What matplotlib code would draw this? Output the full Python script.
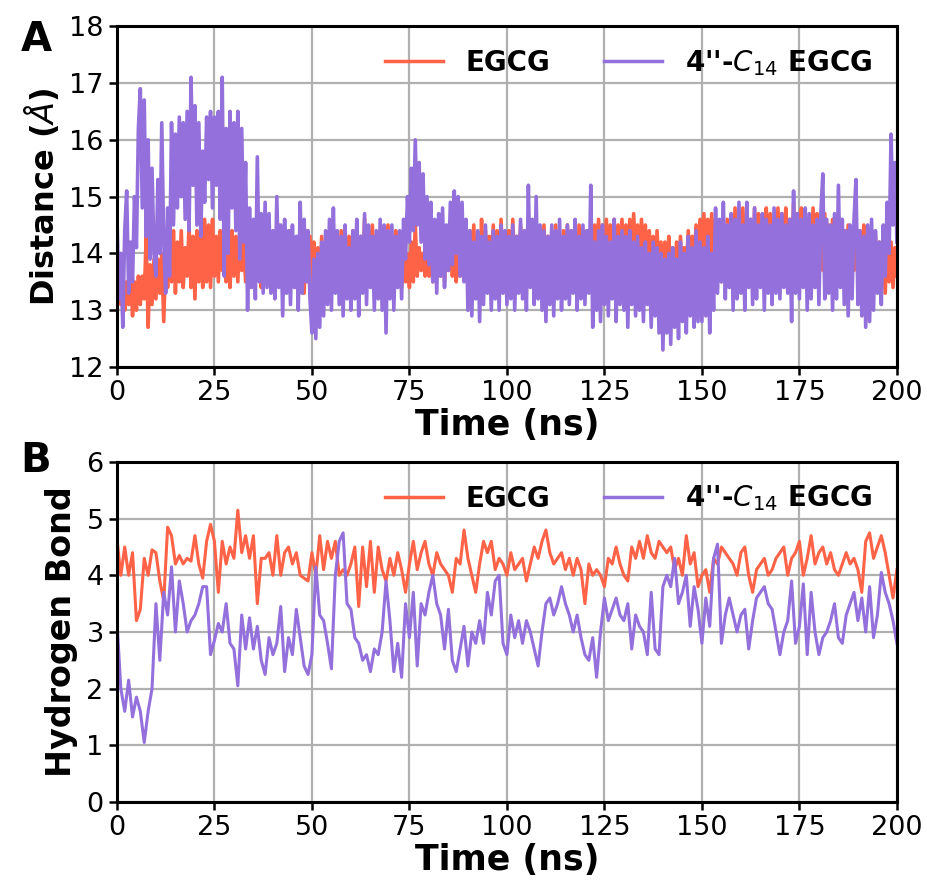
import numpy as np
import matplotlib
matplotlib.use("Agg")
import matplotlib.pyplot as plt

# ---------------- data ----------------
# Panel A: distance (Å), sampled every 0.5 ns from 0 to 200 ns
dist_step = 0.5
egcg_dist = [
    13.3, 13.9, 13.1, 13.6, 13.0, 13.5, 13.1, 13.7, 12.9, 13.5, 13.0, 13.6, 13.1, 13.6, 13.2, 14.3, 12.7, 13.8, 13.1, 13.9,
    13.2, 13.9, 13.3, 14.0, 12.8, 13.9, 13.4, 14.3, 13.5, 14.4, 13.3, 14.2, 13.5, 14.4, 13.4, 14.1, 13.6, 14.5, 13.4, 14.3,
    13.2, 14.4, 13.5, 14.3, 13.4, 14.6, 13.5, 14.5, 13.4, 14.6, 13.6, 14.3, 13.5, 14.4, 13.7, 14.5, 13.5, 14.2, 13.4, 14.4,
    13.6, 14.3, 13.5, 14.4, 13.7, 14.2, 13.5, 14.3, 13.4, 14.1, 13.5, 14.3, 13.6, 14.2, 13.4, 14.4, 13.5, 14.1, 13.6, 14.3,
    13.4, 14.2, 13.6, 14.5, 13.5, 14.3, 13.4, 14.2, 13.6, 14.4, 13.5, 14.1, 13.4, 14.3, 13.6, 14.2, 13.3, 14.4, 13.5, 14.3,
    13.5, 14.2, 13.3, 14.1, 13.4, 14.3, 13.5, 14.2, 13.4, 14.4, 13.6, 14.3, 13.4, 14.2, 13.5, 14.4, 13.6, 14.2, 13.5, 14.3,
    13.6, 14.4, 13.5, 14.5, 13.7, 14.3, 13.6, 14.6, 13.5, 14.4, 13.7, 14.5, 13.6, 14.3, 13.5, 14.4, 13.6, 14.2, 13.7, 14.5,
    13.6, 14.3, 13.5, 14.4, 13.7, 14.2, 13.4, 14.1, 13.5, 14.0, 13.4, 14.2, 13.5, 14.5, 13.6, 14.1, 13.7, 14.0, 13.6, 14.2,
    13.6, 14.1, 13.5, 14.2, 13.7, 14.3, 13.6, 14.1, 13.5, 14.2, 13.7, 14.3, 13.6, 14.0, 13.5, 14.2, 13.6, 14.3, 13.7, 14.2,
    13.5, 14.4, 13.6, 14.5, 13.5, 14.3, 13.6, 14.6, 13.4, 14.4, 13.5, 14.3, 13.7, 14.5, 13.6, 14.4, 13.5, 14.6, 13.6, 14.3,
    13.5, 14.4, 13.6, 14.6, 13.7, 14.3, 13.5, 14.5, 13.6, 14.2, 13.5, 14.4, 13.7, 14.5, 13.6, 14.3, 13.5, 14.4, 13.7, 14.5,
    13.6, 14.3, 13.5, 14.4, 13.7, 14.5, 13.6, 14.3, 13.5, 14.4, 13.6, 14.5, 13.7, 14.4, 13.6, 14.3, 13.5, 14.5, 13.6, 14.4,
    13.6, 14.4, 13.5, 14.3, 13.6, 14.5, 13.8, 14.6, 13.7, 14.5, 13.8, 14.6, 13.7, 14.5, 13.9, 14.6, 13.8, 14.5, 13.7, 14.6,
    13.8, 14.5, 13.7, 14.6, 13.8, 14.7, 13.9, 14.5, 13.7, 14.6, 13.8, 14.5, 13.6, 14.4, 13.7, 14.3, 13.5, 14.4, 13.6, 14.2,
    13.5, 14.2, 13.4, 14.3, 13.6, 14.1, 13.5, 14.2, 13.6, 14.3, 13.5, 14.1, 13.7, 14.4, 13.6, 14.3, 13.8, 14.5, 13.7, 14.6,
    13.8, 14.7, 13.9, 14.6, 13.8, 14.7, 13.9, 14.6, 13.6, 14.4, 13.5, 14.5, 13.7, 14.6, 13.6, 14.5, 13.7, 14.8, 13.6, 14.7,
    13.7, 14.8, 13.6, 14.7, 13.8, 14.6, 13.7, 14.8, 13.6, 14.7, 13.8, 14.6, 13.9, 14.8, 13.7, 14.7, 13.6, 14.6, 13.8, 14.8,
    13.7, 14.7, 13.8, 14.8, 13.6, 14.6, 13.7, 14.9, 13.8, 14.7, 13.7, 14.8, 13.9, 14.7, 13.8, 14.6, 13.7, 14.8, 13.6, 14.7,
    13.8, 14.6, 13.7, 14.7, 13.6, 14.5, 13.8, 14.6, 13.7, 14.5, 13.6, 14.6, 13.8, 14.4, 13.7, 14.5, 13.6, 14.4, 13.7, 14.5,
    13.6, 14.4, 13.5, 14.5, 13.7, 14.3, 13.3, 14.4, 13.6, 14.3, 13.5, 14.2, 13.4, 14.4, 13.3, 14.3, 13.5, 14.2, 13.4, 14.1,
    13.6,
]
c14_dist = [
    14.7, 13.2, 14.0, 12.7, 14.4, 15.1, 13.3, 14.2, 13.5, 15.0, 14.1, 16.2, 16.9, 14.8, 16.7, 14.3, 16.0, 13.9, 15.5, 14.0,
    13.6, 15.3, 14.0, 16.3, 14.2, 13.3, 14.8, 13.6, 16.3, 14.5, 16.1, 14.8, 16.4, 15.0, 16.3, 14.6, 16.5, 14.4, 17.1, 15.2,
    16.6, 14.5, 16.3, 14.3, 15.8, 14.9, 16.4, 15.3, 16.5, 14.8, 16.4, 15.2, 16.5, 14.6, 17.1, 13.6, 16.2, 14.0, 16.5, 14.8,
    16.3, 14.4, 16.5, 13.9, 16.2, 14.2, 15.6, 13.0, 14.8, 13.4, 14.6, 13.2, 15.7, 13.5, 14.7, 13.3, 14.9, 13.4, 14.7, 13.3,
    14.4, 13.2, 15.0, 13.4, 14.5, 12.9, 14.6, 13.3, 14.4, 13.1, 14.5, 13.4, 14.3, 13.0, 14.9, 13.3, 14.6, 13.5, 14.4, 13.2,
    12.6, 13.9, 12.5, 14.0, 12.7, 14.2, 12.9, 14.4, 13.1, 14.6, 13.0, 14.8, 13.3, 14.4, 13.1, 14.3, 12.9, 14.5, 13.2, 14.1,
    13.0, 14.4, 13.2, 14.6, 12.9, 14.3, 13.3, 14.7, 13.1, 14.5, 13.4, 14.3, 13.0, 14.4, 13.2, 14.6, 13.0, 14.5, 12.6, 14.4,
    13.2, 14.5, 13.0, 14.3, 13.4, 14.4, 13.2, 14.6, 13.9, 15.0, 14.2, 15.5, 14.4, 16.0, 14.5, 15.6, 14.2, 15.4, 13.9, 15.0,
    13.8, 14.9, 13.5, 14.6, 13.3, 14.7, 13.6, 14.8, 13.4, 14.5, 13.7, 14.9, 13.8, 15.1, 14.0, 15.0, 13.6, 14.9, 13.5, 14.6,
    13.0, 14.4, 12.9, 14.2, 13.2, 14.4, 12.8, 14.3, 13.1, 14.5, 13.3, 14.2, 13.0, 14.4, 13.2, 14.3, 13.0, 14.5, 13.3, 14.4,
    13.1, 14.3, 13.2, 14.5, 13.0, 14.3, 13.3, 14.6, 13.2, 14.4, 13.0, 15.2, 13.4, 14.6, 13.1, 15.0, 13.2, 14.5, 13.0, 14.4,
    12.8, 14.3, 13.1, 14.5, 12.9, 14.4, 13.2, 14.6, 13.0, 14.3, 13.2, 14.5, 13.1, 14.4, 13.3, 14.6, 13.0, 14.3, 13.2, 14.5,
    13.1, 14.4, 13.3, 15.2, 12.7, 14.2, 13.0, 14.4, 12.8, 14.5, 13.1, 14.3, 12.9, 14.2, 13.2, 14.6, 12.8, 14.3, 13.1, 14.4,
    13.0, 14.3, 12.7, 14.4, 13.1, 14.2, 12.9, 14.3, 13.0, 14.1, 12.8, 14.2, 13.1, 14.0, 12.7, 14.2, 12.9, 14.1, 12.6, 14.0,
    12.3, 13.9, 12.6, 14.0, 12.4, 14.1, 12.7, 13.9, 12.5, 14.2, 12.8, 14.0, 12.6, 14.3, 12.9, 14.1, 12.7, 14.4, 12.8, 14.2,
    12.8, 14.1, 12.9, 14.3, 12.6, 14.0, 13.0, 14.8, 13.3, 14.6, 13.5, 14.9, 13.2, 14.5, 13.4, 14.7, 13.0, 14.6, 13.2, 14.9,
    13.3, 14.5, 13.0, 14.9, 13.4, 14.6, 13.1, 14.8, 13.2, 14.5, 13.4, 14.7, 13.0, 14.6, 13.3, 14.5, 13.1, 14.8, 13.3, 14.6,
    13.2, 14.7, 13.4, 14.5, 13.3, 14.6, 12.8, 15.1, 13.3, 14.7, 13.2, 14.6, 13.4, 14.8, 13.0, 14.7, 13.2, 14.5, 13.4, 14.6,
    13.1, 14.7, 15.4, 13.2, 14.6, 13.3, 14.5, 13.0, 14.7, 13.2, 15.2, 13.4, 14.6, 13.1, 14.4, 12.9, 14.5, 13.2, 14.6, 15.3,
    13.1, 14.4, 12.9, 14.3, 12.7, 14.5, 12.8, 14.6, 13.0, 14.4, 13.3, 14.2, 13.1, 14.5, 13.6, 14.9, 14.0, 16.1, 14.5, 15.6,
    14.2,
]

# Panel B: hydrogen bond count, sampled every 1 ns from 0 to 200 ns
hb_step = 1.0
egcg_hb = [
    4.65, 4.0, 4.5, 4.0, 4.4, 3.2, 3.4, 4.3, 4.0, 4.45,
    4.4, 3.9, 3.55, 4.85, 4.7, 4.2, 4.35, 4.2, 4.3, 4.25,
    4.7, 4.2, 3.95, 4.6, 4.9, 4.6, 3.7, 4.6, 4.2, 4.5,
    4.3, 5.15, 4.4, 4.7, 4.3, 4.7, 3.5, 4.3, 4.3, 4.4,
    4.0, 4.7, 4.0, 4.4, 4.5, 4.2, 4.4, 4.0, 3.95, 3.9,
    4.4, 4.0, 4.7, 4.1, 4.6, 4.3, 4.6, 4.0, 4.1, 4.0,
    4.2, 4.5, 3.45, 4.5, 3.8, 4.6, 3.7, 4.5, 4.1, 3.9,
    4.3, 4.0, 4.4, 4.1, 3.7, 4.2, 4.6, 4.1, 4.4, 4.6,
    4.2, 4.0, 4.4, 4.2, 4.1, 4.0, 3.7, 4.3, 4.2, 4.8,
    4.3, 4.0, 3.7, 4.2, 4.6, 4.4, 4.6, 4.1, 4.3, 4.2,
    4.0, 4.4, 4.1, 4.2, 4.3, 3.9, 4.2, 4.5, 4.3, 4.6,
    4.8, 4.4, 4.2, 4.3, 4.4, 4.1, 4.3, 4.0, 4.3, 4.1,
    3.5, 4.2, 4.0, 4.1, 4.0, 3.8, 4.3, 4.2, 4.5, 4.2,
    4.0, 3.9, 4.5, 4.3, 4.6, 4.3, 4.7, 4.4, 4.3, 4.6,
    4.5, 4.4, 4.5, 4.1, 4.3, 4.0, 4.7, 4.2, 4.4, 3.8,
    4.0, 4.1, 3.7, 4.3, 4.2, 4.5, 4.4, 4.3, 4.2, 4.0,
    4.4, 4.5, 4.0, 3.7, 4.1, 4.2, 4.3, 4.0, 4.1, 4.3,
    4.4, 4.5, 4.0, 4.3, 4.4, 4.6, 4.0, 4.3, 4.7, 4.2,
    4.4, 4.5, 4.2, 4.4, 4.1, 4.0, 4.2, 4.4, 4.2, 4.3,
    4.1, 3.7, 4.6, 4.75, 4.3, 4.5, 4.7, 4.4, 4.0, 3.6,
    4.1,
]
c14_hb = [
    3.2, 2.0, 1.6, 2.15, 1.5, 1.85, 1.6, 1.05, 1.6, 2.0,
    3.5, 2.5, 3.7, 3.3, 4.15, 3.0, 3.9, 3.5, 3.0, 3.2,
    3.3, 3.5, 3.8, 3.8, 2.6, 2.85, 3.15, 3.0, 3.5, 2.8,
    2.7, 2.05, 3.3, 2.7, 3.25, 2.7, 3.1, 2.5, 2.25, 2.9,
    2.6, 2.8, 3.45, 2.3, 2.9, 2.6, 3.4, 2.9, 2.4, 2.25,
    2.6, 4.15, 3.3, 3.2, 2.8, 2.35, 4.0, 4.6, 4.75, 3.5,
    3.4, 2.9, 2.8, 2.5, 2.6, 2.3, 2.7, 2.6, 3.0, 3.9,
    3.2, 2.3, 2.8, 2.2, 3.5, 2.9, 3.7, 2.4, 3.5, 3.3,
    3.7, 4.0, 3.5, 3.3, 2.7, 3.4, 2.5, 2.3, 2.7, 3.1,
    2.4, 3.0, 2.8, 3.2, 2.8, 3.7, 3.3, 3.9, 4.0, 2.8,
    2.6, 3.3, 2.9, 3.2, 2.8, 3.2, 3.0, 2.7, 2.4, 3.0,
    3.5, 3.6, 3.3, 3.5, 3.8, 3.5, 3.3, 3.0, 3.3, 2.9,
    2.6, 2.5, 2.9, 2.2, 3.0, 3.6, 3.2, 3.4, 3.6, 3.3,
    3.2, 3.5, 2.7, 3.3, 3.1, 3.0, 2.6, 3.7, 2.7, 2.6,
    3.8, 4.0, 3.8, 4.3, 3.5, 3.7, 4.0, 3.1, 3.8, 3.4,
    2.8, 3.6, 3.1, 4.3, 4.55, 2.8, 3.3, 3.6, 3.3, 3.0,
    3.3, 3.4, 2.7, 3.2, 3.6, 3.7, 3.8, 3.5, 3.4, 3.0,
    2.6, 3.0, 3.2, 3.9, 2.8, 3.1, 3.85, 2.6, 3.7, 3.0,
    2.6, 2.9, 3.0, 3.2, 3.5, 2.9, 2.8, 3.3, 3.5, 3.7,
    3.2, 3.6, 3.0, 3.8, 2.9, 3.3, 4.05, 3.7, 3.5, 3.2,
    2.8,
]

series_labels = ["EGCG", "4''-$C_{14}$ EGCG"]
series_colors = ["#FF6347", "#9370DB"]
x_ticks = [0, 25, 50, 75, 100, 125, 150, 175, 200]

# ---------------- figure ----------------
fig = plt.figure(figsize=(9.28, 8.90), dpi=100)
ax_a = fig.add_axes([0.126, 0.5876, 0.8405, 0.383])
ax_b = fig.add_axes([0.126, 0.0989, 0.8405, 0.382])

t_dist = np.arange(len(egcg_dist)) * dist_step
t_hb = np.arange(len(egcg_hb)) * hb_step

ax_a.plot(t_dist, egcg_dist, color=series_colors[0], lw=2.6, label=series_labels[0])
ax_a.plot(t_dist, c14_dist, color=series_colors[1], lw=2.6, label=series_labels[1])
ax_b.plot(t_hb, egcg_hb, color=series_colors[0], lw=2.2, label=series_labels[0])
ax_b.plot(t_hb, c14_hb, color=series_colors[1], lw=2.2, label=series_labels[1])

for ax, ylim, yticks, ylabel, ylab_size in [
    (ax_a, (12, 18), range(12, 19), "Distance ($Å$)", 23),
    (ax_b, (0, 6), range(0, 7), "Hydrogen Bond", 24),
]:
    ax.set_xlim(0, 200)
    ax.set_ylim(*ylim)
    ax.set_xticks(x_ticks)
    ax.set_yticks(list(yticks))
    ax.grid(True, color="#b0b0b0", lw=1.6)
    ax.set_axisbelow(True)
    for sp in ax.spines.values():
        sp.set_linewidth(2.2)
    ax.tick_params(axis="both", labelsize=19.5, width=1.8, length=6)
    ax.set_xlabel("Time (ns)", fontsize=25, fontweight="bold", labelpad=1)
    ax.set_ylabel(ylabel, fontsize=ylab_size, fontweight="bold", labelpad=6)
    leg = ax.legend(loc="upper right", ncol=2, frameon=False,
                    prop={"size": 20, "weight": "bold"},
                    handlelength=2.1, handletextpad=0.8, columnspacing=1.95,
                    bbox_to_anchor=(1.0, 1.01))
    for line in leg.get_lines():
        line.set_linewidth(2.5)

fig.text(0.022, 0.943, "A", fontsize=29, fontweight="bold")
fig.text(0.022, 0.470, "B", fontsize=29, fontweight="bold")

fig.savefig("out.png", dpi=100)
